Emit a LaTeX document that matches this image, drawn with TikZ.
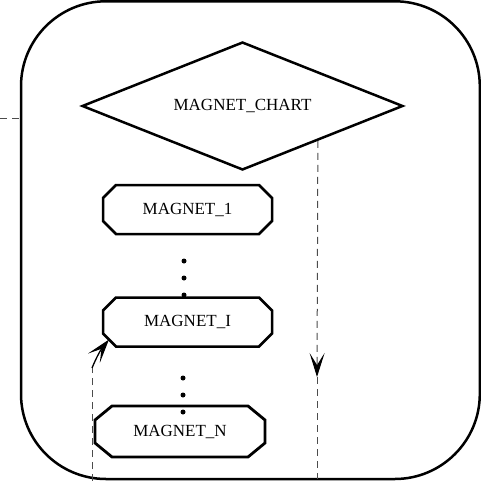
\documentclass[tikz,border=0pt]{standalone}
\usepackage{fontspec}
\setmainfont{Liberation Serif}
\usetikzlibrary{shapes.geometric,arrows.meta,calc}
\newcommand\chamferbox[4]{% node name, x chamfer, y chamfer, line width
  \draw[line width=#4, line join=miter]
    ($(#1.north west)+(#2,0)$) -- ($(#1.north east)+(-#2,0)$)
    -- ($(#1.north east)+(0,#3)$) -- ($(#1.south east)+(0,-#3)$)
    -- ($(#1.south east)+(-#2,0)$) -- ($(#1.south west)+(#2,0)$)
    -- ($(#1.south west)+(0,-#3)$) -- ($(#1.north west)+(0,#3)$) -- cycle;}
\begin{document}
\begin{tikzpicture}[x=1pt,y=-1pt,
  txt/.style={font=\fontsize{17}{20}\selectfont},
  box/.style={rectangle, minimum width=169pt, minimum height=49pt, inner sep=0pt, outer sep=0pt, txt},
  dashline/.style={draw=black!70, line width=1pt, dash pattern=on 7pt off 5pt},
  vee/.style={-{Stealth[length=24pt,width=15pt,inset=12pt,black]}},
  dot/.style={circle, fill=black, inner sep=0pt, minimum size=5pt}
]
\useasboundingbox (0,0) rectangle (481,481);
% frame
\draw[line width=2.5pt, rounded corners=85pt] (21,1.3) rectangle (479.8,479);
\coordinate (fl) at (21,119);
\coordinate (fo) at (0,119);
\draw[dashline] (fo) -- (fl);
% decision
\node[diamond, draw, line width=2.5pt, aspect=2.5, minimum width=321pt, minimum height=128pt, inner sep=0pt, txt] (dia) at (242.5,106) {MAGNET\_CHART};
% boxes
\node[box] (m1) at (187.5,209.5) {MAGNET\_1};
\chamferbox{m1}{13}{13}{2.5pt}
\node[box] (mi) at (187.5,322) {MAGNET\_I};
\chamferbox{mi}{13}{13}{2.5pt}
\node[box, minimum width=170pt, minimum height=51pt] (mn) at (180,431.5) {MAGNET\_N};
\chamferbox{mn}{17}{14}{2.8pt}
% dots
\node[dot] (d1) at (184,261) {};
\node[dot] (d2) at (184,278) {};
\node[dot] (d3) at (184,295) {};
\node[dot] (d4) at (183,378) {};
\node[dot] (d5) at (183,395) {};
\node[dot] (d6) at (183,412) {};
% right dashed connector
\coordinate (rs) at ($(dia.east)!0.534!(dia.south)$);
\coordinate (rm) at (317,377);
\coordinate (re) at (317,479);
\draw[dashline, vee] (rs) -- (rm);
\draw[dashline] (rm) -- (re);
% left connector into MAGNET_I
\coordinate (ls) at (92,481);
\coordinate (lb) at (92,368);
\coordinate (lt) at (109,339.5);
\draw[dashline] (ls) -- (lb);
\draw[line width=1.3pt, vee] (lb) to[bend left=8] (lt);
\end{tikzpicture}
\end{document}
